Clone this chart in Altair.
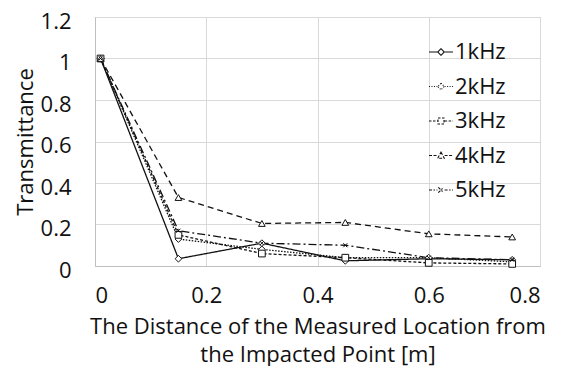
import altair as alt
import pandas as pd

distance = [0.01, 0.15, 0.30, 0.45, 0.60, 0.75]
series_names = ["1kHz", "2kHz", "3kHz", "4kHz", "5kHz"]
k1 = [1.0, 0.035, 0.11, 0.025, 0.035, 0.03]
k2 = [1.0, 0.13, 0.08, 0.04, 0.04, 0.02]
k3 = [1.0, 0.15, 0.06, 0.04, 0.015, 0.01]
k4 = [1.0, 0.33, 0.205, 0.21, 0.155, 0.14]
k5 = [1.0, 0.17, 0.11, 0.10, 0.04, 0.03]
x_ticks = [0, 0.2, 0.4, 0.6, 0.8]
y_ticks = [0, 0.2, 0.4, 0.6, 0.8, 1.0, 1.2]

rows = []
for name, vals in zip(series_names, [k1, k2, k3, k4, k5]):
    for d, v in zip(distance, vals):
        rows.append({"series": name, "distance": d, "value": v})
df = pd.DataFrame(rows)

FONT = "Open Sans"
FS = 22
INK = "#111111"
XPATH = "M-0.6,-0.6L0.6,0.6M-0.6,0.6L0.6,-0.6"
dashes = [[1, 0], [1.5, 1.5], [3, 2], [6, 4], [8, 3, 2, 3]]
shapes = ["diamond", "diamond", "square", "triangle-up", XPATH]
sizes = [45, 45, 60, 55, 60]

# legend symbols: short line + marker
seg = "M-2,0H-0.6M0.6,0H2"
leg_shapes = [
    seg + "M0,-0.55L0.55,0L0,0.55L-0.55,0Z",
    seg + "M0,-0.55L0.55,0L0,0.55L-0.55,0Z",
    seg + "M-0.5,-0.5H0.5V0.5H-0.5Z",
    seg + "M0,-0.55L0.55,0.45H-0.55Z",
    seg + "M-0.45,-0.45L0.45,0.45M-0.45,0.45L0.45,-0.45",
]
leg_dashes = [[1, 0], [1, 1.5], [2.5, 1.5], [3, 1.5], [3, 1.5, 1.5, 1.5]]

xenc = alt.X("distance:Q", scale=alt.Scale(domain=[0, 0.8], nice=False),
             axis=alt.Axis(values=x_ticks, format="~g",
                           title=["The Distance of the Measured Location from", "the Impacted Point [m]"]))
yenc = alt.Y("value:Q", scale=alt.Scale(domain=[0, 1.2], nice=False),
             axis=alt.Axis(values=y_ticks, format="~g", title="Transmittance"))

lines = alt.Chart(df).mark_line(color=INK, strokeWidth=1.3).encode(
    x=xenc, y=yenc,
    strokeDash=alt.StrokeDash("series:N", scale=alt.Scale(domain=series_names, range=dashes), legend=None),
    detail="series:N",
)

points = alt.Chart(df).mark_point(filled=False, color=INK, fill="white", fillOpacity=1, strokeWidth=1, opacity=1).encode(
    x="distance:Q", y="value:Q",
    shape=alt.Shape("series:N", scale=alt.Scale(domain=series_names, range=shapes), legend=None),
    size=alt.Size("series:N", scale=alt.Scale(domain=series_names, range=sizes), legend=None),
)

legend_layer = alt.Chart(df).transform_filter("false").mark_point(
    filled=False, color=INK, strokeWidth=1, opacity=1, size=144
).encode(
    x="distance:Q", y="value:Q",
    shape=alt.Shape("series:N", scale=alt.Scale(domain=series_names, range=leg_shapes),
                    legend=alt.Legend(title=None, orient="none", legendX=335, legendY=24,
                                      labelFont=FONT, labelFontSize=FS, labelColor=INK,
                                      rowPadding=12.5, labelOffset=3, symbolStrokeColor=INK,
                                      symbolStrokeWidth=1.1, symbolSize=144)),
    strokeDash=alt.StrokeDash("series:N", scale=alt.Scale(domain=series_names, range=leg_dashes)),
)

chart = alt.layer(lines, points, legend_layer).resolve_scale(
    shape="independent", strokeDash="independent"
).properties(
    width=445, height=249,
    autosize=alt.AutoSizeParams(type="none"),
    padding={"left": 87, "top": 9, "right": 14, "bottom": 100},
).configure_view(
    stroke="#bfbfbf", strokeWidth=1
).configure_axis(
    labelFont=FONT, labelFontSize=FS, labelColor=INK,
    titleFont=FONT, titleFontSize=FS, titleColor=INK, titleFontWeight="normal",
    grid=True, gridColor="#d9d9d9", gridWidth=1,
    domainColor="#bfbfbf", ticks=False,
).configure_axisX(
    labelPadding=19, titlePadding=10, titleLineHeight=28,
).configure_axisY(
    labelPadding=24, titlePadding=3, labelOffset=4,
)

chart.save("out.html", embed_options={"renderer": "svg", "actions": False})
